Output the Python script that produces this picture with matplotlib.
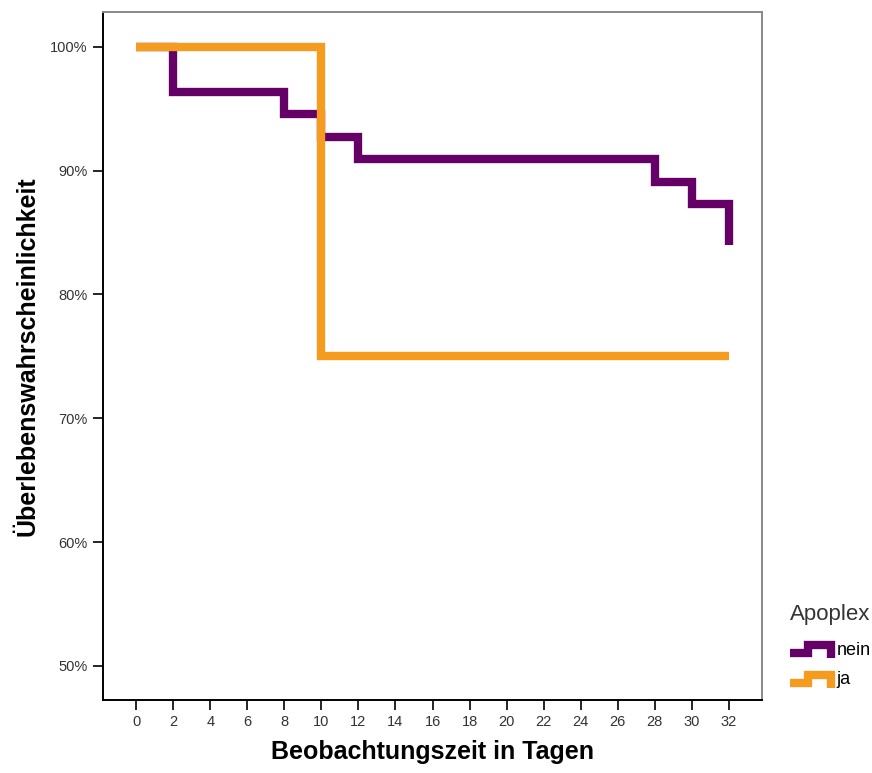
import numpy as np
import matplotlib
matplotlib.use('agg')
import matplotlib.pyplot as plt
from matplotlib.lines import Line2D
from matplotlib.legend_handler import HandlerBase

plt.rcParams['font.family'] = ['Liberation Sans', 'DejaVu Sans']

# Kaplan-Meier step data (days, survival %)
nein_t = [0, 2, 8, 10, 12, 28, 30, 32]
nein_s = [100, 96.36, 94.55, 92.73, 90.91, 89.09, 87.27, 84.0]
ja_t = [0, 10, 32]
ja_s = [100, 75, 75]

groups = ['nein', 'ja']
colors = {'nein': '#650066', 'ja': '#f59c1e'}
xticks = list(range(0, 33, 2))
yticks = [50, 60, 70, 80, 90, 100]


class StepHandler(HandlerBase):
    # little step-shaped legend key like SPSS draws it
    def create_artists(self, legend, orig_handle, xdescent, ydescent,
                       width, height, fontsize, trans):
        x0 = -xdescent
        y0 = -ydescent
        xs = [x0, x0 + 0.4 * width, x0 + 0.4 * width, x0 + 0.92 * width, x0 + 0.92 * width]
        ys = [y0 + 0.1 * height, y0 + 0.1 * height, y0 + 0.75 * height,
              y0 + 0.75 * height, y0 - 0.3 * height]
        ln = Line2D(xs, ys, color=orig_handle.get_color(),
                    linewidth=orig_handle.get_linewidth(),
                    solid_joinstyle='miter', solid_capstyle='butt',
                    transform=trans)
        return [ln]


fig = plt.figure(figsize=(8.72, 7.73), dpi=100)
ax = fig.add_axes([0.1181, 0.0944, 0.7558, 0.8901])

h_nein, = ax.step(nein_t, nein_s, where='post', color=colors['nein'], lw=6,
                  solid_joinstyle='miter', solid_capstyle='butt', zorder=2)
h_ja, = ax.step(ja_t, ja_s, where='post', color=colors['ja'], lw=6,
                solid_joinstyle='miter', solid_capstyle='butt', zorder=3)

ax.set_xlim(-1.8, 33.8)
ax.set_ylim(47.25, 102.8)
ax.set_xticks(xticks)
ax.set_yticks(yticks)
ax.set_yticklabels([f'{v}%' for v in yticks])
ax.tick_params(axis='both', direction='out', length=7, width=1.2,
               labelsize=10.5, labelcolor='#333333', pad=4)

for side in ['left', 'bottom']:
    ax.spines[side].set_color('black')
    ax.spines[side].set_linewidth(1.4)
for side in ['top', 'right']:
    ax.spines[side].set_color('#888888')
    ax.spines[side].set_linewidth(1.4)

ax.set_xlabel('Beobachtungszeit in Tagen', fontsize=18, fontweight='bold', labelpad=8)
ax.set_ylabel('Überlebenswahrscheinlichkeit', fontsize=18, fontweight='bold', labelpad=8)

leg = fig.legend([h_nein, h_ja], groups, title='Apoplex',
                 handler_map={Line2D: StepHandler()},
                 loc='upper left', bbox_to_anchor=(0.898, 0.228),
                 frameon=False, fontsize=13, title_fontsize=16,
                 handlelength=2.45, handletextpad=0.1, labelspacing=0.7,
                 borderaxespad=0, alignment='left')
leg.get_title().set_color('#333333')
leg._legend_box.sep = 12

fig.savefig('out.png', dpi=100)
plt.close(fig)
